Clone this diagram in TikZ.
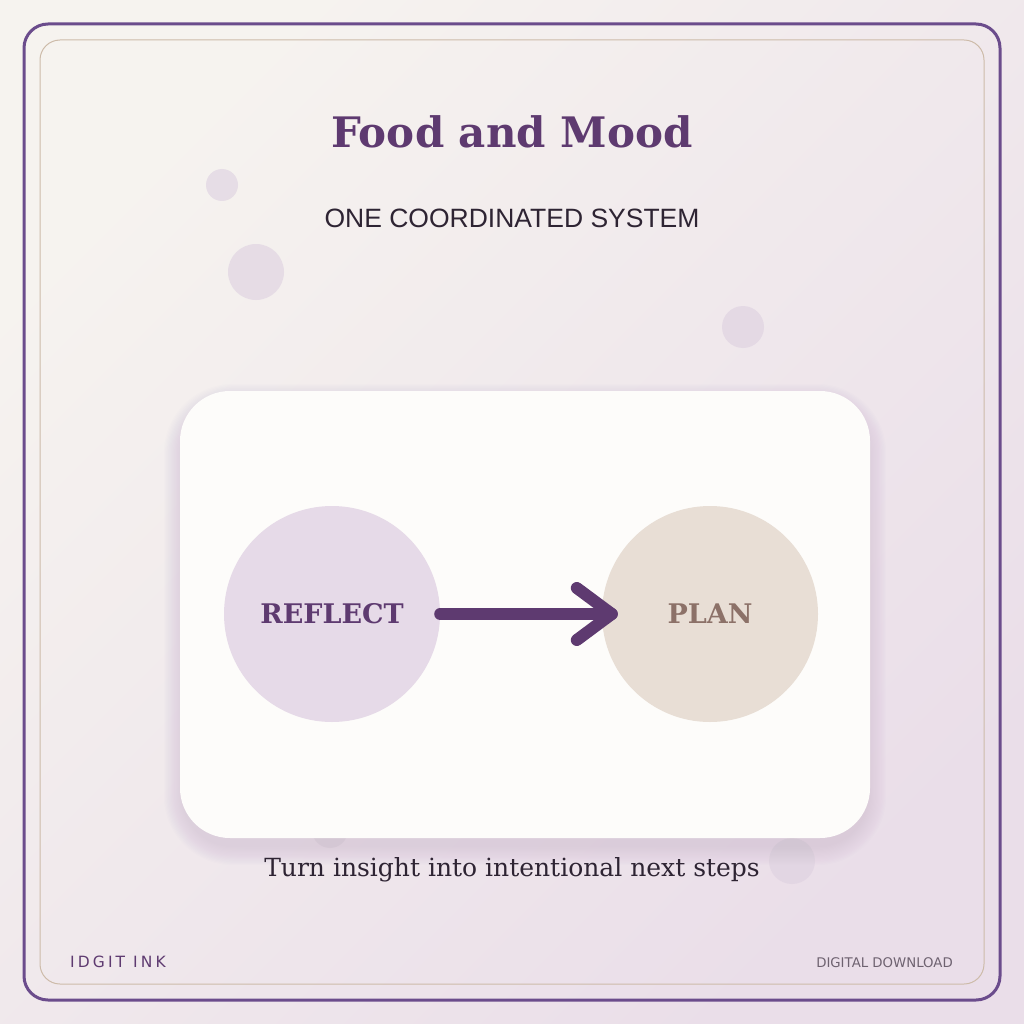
\documentclass[tikz,border=0pt]{standalone}
\usepackage{fontspec}
\usetikzlibrary{calc}
\setmainfont{DejaVu Serif}
\newfontfamily\headsans{Liberation Sans}
\newfontfamily\footsans{DejaVu Sans}
\newfontfamily\spacedsans[LetterSpace=20]{DejaVu Sans}

\definecolor{plum}{HTML}{5E3A70}
\definecolor{frameplum}{HTML}{6B4C8C}
\definecolor{tan}{HTML}{CDBBA9}
\definecolor{ink}{HTML}{2E2433}
\definecolor{reflectfill}{HTML}{E6DAE8}
\definecolor{planfill}{HTML}{E8DED5}
\definecolor{plantext}{HTML}{8C7168}
\definecolor{cardfill}{HTML}{FDFCFA}
\definecolor{bubble}{HTML}{DDD0E0}
\definecolor{greytext}{HTML}{6E6270}
\definecolor{bgstart}{HTML}{F6F3EF}
\definecolor{bgend}{HTML}{EADEE9}
\definecolor{cardshadow}{HTML}{6A5878}

\begin{document}
\begin{tikzpicture}[x=1pt, y=-1pt,
        bubble/.style={fill=bubble, opacity=0.6},
        stage/.style={circle, minimum size=216pt, inner sep=0pt, font=\bfseries\fontsize{27}{32}\selectfont},
        flow/.style={line width=12pt, line cap=round, line join=round, draw=plum}]
        \useasboundingbox (0,0) rectangle (1024,1024);

        % background
        \shade[top color=bgstart, bottom color=bgend, shading angle=45] (0,0) rectangle (1024,1024);

        % frames
        \draw[frameplum, line width=3pt, rounded corners=24pt] (24,24) rectangle (1000,1000);
        \draw[tan, line width=1pt, rounded corners=20pt] (40,40) rectangle (984,984);

        % bubbles
        \fill[bubble] (222,185) circle (16);
        \fill[bubble] (256,272) circle (28);
        \fill[bubble] (743,327) circle (21);
        \fill[bubble] (330,830) circle (18);
        \fill[bubble] (792,861) circle (23);

        \node[font=\bfseries\fontsize{42}{50}\selectfont, text=plum, anchor=base] (title) at (512,148) {Food and Mood};
        \node[font=\headsans\fontsize{26.5}{30}\selectfont, text=ink, anchor=base] (subtitle) at (512,228) {ONE COORDINATED SYSTEM};

        % card with soft shadow
        \foreach \i in {1,...,16}
            \fill[cardshadow, opacity=0.007, rounded corners={50pt+1.2*\i pt}] (180-1.2*\i+3,391-1.2*\i+12) rectangle (870+1.2*\i-3,838+1.2*\i+8);
        \fill[cardfill, rounded corners=50pt] (180,391) rectangle (870,838);

        \node[stage, fill=reflectfill, text=plum] (reflect) at (332,614) {REFLECT};
        \node[stage, fill=planfill, text=plantext] (plan) at (710,614) {PLAN};

        \coordinate (tip) at ($(plan.west)+(10,0)$);
        \draw[flow] (reflect.east) -- (tip);
        \draw[flow] ($(tip)+(-35,-26)$) -- (tip) -- ($(tip)+(-35,26)$);

        \node[font=\fontsize{25}{29}\selectfont, text=ink, anchor=base] (tagline) at (512,876) {Turn insight into intentional next steps};

        \node[font=\spacedsans\fontsize{15.5}{18}\selectfont, text=plum, anchor=base west, inner sep=0pt] (brand) at (70,967) {IDGIT INK};
        \node[font=\footsans\fontsize{13.3}{16}\selectfont, text=greytext, anchor=base east, inner sep=0pt] (download) at (953,967) {DIGITAL DOWNLOAD};
    \end{tikzpicture}
\end{document}
